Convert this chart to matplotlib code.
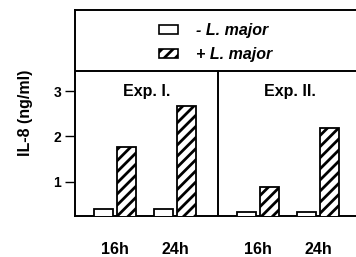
import numpy as np
import matplotlib
matplotlib.use("Agg")
import matplotlib.pyplot as plt

plt.rcParams['font.family'] = ['Liberation Sans', 'DejaVu Sans']
plt.rcParams['font.weight'] = 'bold'
plt.rcParams['hatch.linewidth'] = 2.0

experiments = ["Exp. I.", "Exp. II."]
times = ["16h", "24h"]
minus_lm = [[0.40, 0.40], [0.32, 0.32]]
plus_lm = [[1.76, 2.67], [0.89, 2.18]]
yticks = [1, 2, 3]

fig = plt.figure(figsize=(3.56, 2.57), dpi=100)
ax = fig.add_axes([75/356, 41/257, 281/356, 206/257])

width = 1.0
gap = 0.21
time_step = 3.17
exp_step = 7.54
first = 2.1

ymin, ymax = 0.24, 4.79
sep = 3.44

xt, xl = [], []
for i, exp in enumerate(experiments):
    for j, t in enumerate(times):
        c = first + i * exp_step + j * time_step
        ax.bar(c - (width + gap) / 2, minus_lm[i][j], width, color='white',
               edgecolor='black', linewidth=1.3, zorder=3)
        ax.bar(c + (width + gap) / 2, plus_lm[i][j], width, color='white',
               edgecolor='black', hatch='///', linewidth=1.3, zorder=3)
        xt.append(c)
        xl.append(t)
    ax.text(first + i * exp_step + time_step / 2 + 0.1, 3.0, exp, ha='center', va='center',
            fontsize=11.5, fontweight='bold')

divider = first + exp_step / 2 + time_step / 2 + 0.05
ax.plot([divider, divider], [ymin, sep], color='black', lw=1.4, zorder=4)
ax.axhline(sep, color='black', lw=1.4)

ax.set_xlim(0, 281/19)
ax.set_ylim(ymin, ymax)
ax.set_yticks(yticks)
ax.set_yticklabels([str(v) for v in yticks], fontsize=10, fontweight='bold')
ax.set_xticks(xt)
ax.set_xticklabels(xl, fontsize=11.5, fontweight='bold')
ax.tick_params(axis='x', length=0, pad=19)
ax.tick_params(axis='y', direction='out', length=7, width=1, pad=3)
ax.spines['right'].set_visible(False)
for s in ['left', 'top', 'bottom']:
    ax.spines[s].set_linewidth(1.4)

ax.set_ylabel("IL-8 (ng/ml)", fontsize=11.5, fontweight='bold', labelpad=15)

h1 = plt.Rectangle((0, 0), 1, 1, facecolor='white', edgecolor='black', lw=1.2)
h2 = plt.Rectangle((0, 0), 1, 1, facecolor='white', edgecolor='black', hatch='///', lw=1.2)
leg = ax.legend([h1, h2], ["- L. major", "+ L. major"], loc='center',
                bbox_to_anchor=(0.5, 0.842),
                frameon=False, handlelength=1.2, handleheight=0.5, handletextpad=1.1,
                labelspacing=0.6, borderaxespad=0,
                prop={'size': 11.5, 'weight': 'bold', 'style': 'italic'})

fig.savefig("out.png", dpi=100)
